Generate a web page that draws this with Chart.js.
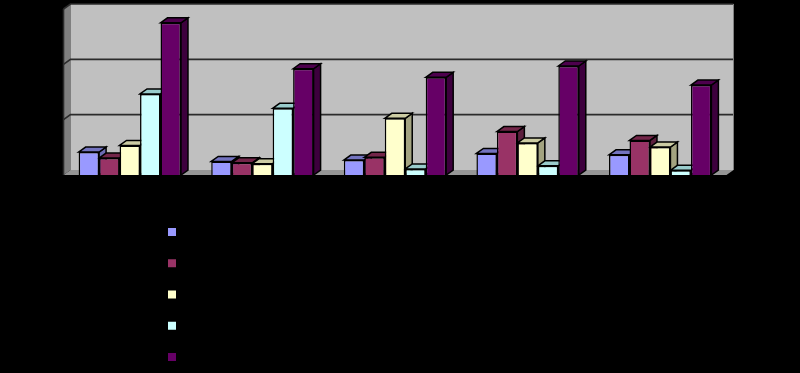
<!DOCTYPE html>
<html>
<head>
<meta charset="utf-8">
<title>Bar chart</title>
<script src="https://cdn.jsdelivr.net/npm/chart.js@4"></script>
<style>
  html, body { margin: 0; padding: 0; background: #000; }
  #wrap { position: relative; width: 800px; height: 373px; }
</style>
</head>
<body>
<div id="wrap"><canvas id="chart"></canvas></div>
<script>
const categories = ["1", "2", "3", "4", "5"];
const seriesNames = ["Series 1", "Series 2", "Series 3", "Series 4", "Series 5"];
const series1 = [8.3, 4.9, 5.4, 7.8, 7.3];
const series2 = [6.1, 4.4, 6.4, 15.7, 12.5];
const series3 = [10.7, 4.1, 20.5, 11.6, 10.1];
const series4 = [29.3, 24.1, 2.2, 3.3, 1.7];
const series5 = [55, 38.4, 35.3, 39.4, 32.5];
const colors = ["#9999FF", "#993366", "#FFFFCC", "#CCFFFF", "#660066"];
const topColors = ["#7373BF", "#732649", "#CCCCA3", "#99CCCC", "#4D004D"];
const sideColors = ["#6B6BB3", "#5C1F3D", "#A3A380", "#8FB3B3", "#3D003D"];

const DEPTH_X = 7;
const DEPTH_Y = 5;

function poly(ctx, pts, fill, stroke, lineWidth) {
  ctx.beginPath();
  pts.forEach((p, i) => (i ? ctx.lineTo(p[0], p[1]) : ctx.moveTo(p[0], p[1])));
  ctx.closePath();
  ctx.fillStyle = fill;
  ctx.fill();
  if (stroke) {
    ctx.strokeStyle = stroke;
    ctx.lineWidth = lineWidth;
    ctx.stroke();
  }
}

// back wall, side wall, floor and gridlines, all hung off the chart scales
const wallsPlugin = {
  id: "walls",
  beforeDatasetsDraw(chart) {
    const { ctx, chartArea: a, scales } = chart;
    ctx.save();
    poly(ctx, [[a.left, a.top], [a.left + DEPTH_X, a.top - DEPTH_Y], [a.left + DEPTH_X, a.bottom - DEPTH_Y], [a.left, a.bottom]], "#808080");
    poly(ctx, [[a.left, a.bottom], [a.left + DEPTH_X, a.bottom - DEPTH_Y], [a.right + DEPTH_X, a.bottom - DEPTH_Y], [a.right, a.bottom]], "#969696");
    poly(ctx, [[a.left + DEPTH_X, a.top - DEPTH_Y], [a.right + DEPTH_X, a.top - DEPTH_Y], [a.right + DEPTH_X, a.bottom - DEPTH_Y], [a.left + DEPTH_X, a.bottom - DEPTH_Y]], "#C0C0C0");

    ctx.strokeStyle = "#2B2B2B";
    ctx.lineWidth = 1.6;
    scales.y.ticks.forEach((t) => {
      if (t.value === 0) return;
      const y = scales.y.getPixelForValue(t.value);
      ctx.beginPath();
      ctx.moveTo(a.left, y);
      ctx.lineTo(a.left + DEPTH_X, y - DEPTH_Y);
      ctx.lineTo(a.right + DEPTH_X, y - DEPTH_Y);
      ctx.stroke();
    });

    // front edge of the side wall
    ctx.beginPath();
    ctx.moveTo(a.left, a.top);
    ctx.lineTo(a.left, a.bottom);
    ctx.stroke();

    ctx.strokeStyle = "#808080";
    ctx.lineWidth = 1;
    ctx.beginPath();
    ctx.moveTo(a.right + DEPTH_X, a.top - DEPTH_Y);
    ctx.lineTo(a.right + DEPTH_X, a.bottom - DEPTH_Y);
    ctx.stroke();

    // top and side faces of every bar, left to right; the front faces go over these
    chart.data.datasets.forEach((ds, i) => {
      chart.getDatasetMeta(i).data.forEach((bar) => {
        const { x, y, base, width } = bar.getProps(["x", "y", "base", "width"], true);
        const l = x - width / 2;
        const r = x + width / 2;
        poly(ctx, [[r, y], [r + DEPTH_X, y - DEPTH_Y], [r + DEPTH_X, base - DEPTH_Y], [r, base]], sideColors[i], "#000", 1.5);
        poly(ctx, [[l, y], [l + DEPTH_X, y - DEPTH_Y], [r + DEPTH_X, y - DEPTH_Y], [r, y]], topColors[i], "#000", 1.5);
      });
    });
    ctx.restore();
  },
  afterDraw(chart) {
    const { ctx } = chart;
    ctx.save();
    colors.forEach((c, i) => {
      ctx.fillStyle = c;
      ctx.fillRect(168, 228 + i * 31.25, 8, 8);
    });
    ctx.restore();
  },
};

const allSeries = [series1, series2, series3, series4, series5];

new Chart(document.getElementById("chart"), {
  type: "bar",
  data: {
    labels: categories,
    datasets: allSeries.map((values, i) => ({
      label: seriesNames[i],
      data: values,
      backgroundColor: colors[i],
      borderColor: "#000",
      borderWidth: 1.5,
      barPercentage: 1,
      categoryPercentage: 0.772,
      clip: false,
    })),
  },
  options: {
    responsive: true,
    maintainAspectRatio: false,
    animation: false,
    layout: { padding: { left: 63.5, right: 73.5, top: 9, bottom: 198 } },
    plugins: { legend: { display: false }, tooltip: { enabled: false } },
    scales: {
      x: { display: false },
      y: { display: false, min: 0, max: 60, ticks: { stepSize: 20 } },
    },
  },
  plugins: [wallsPlugin],
});
</script>
</body>
</html>
